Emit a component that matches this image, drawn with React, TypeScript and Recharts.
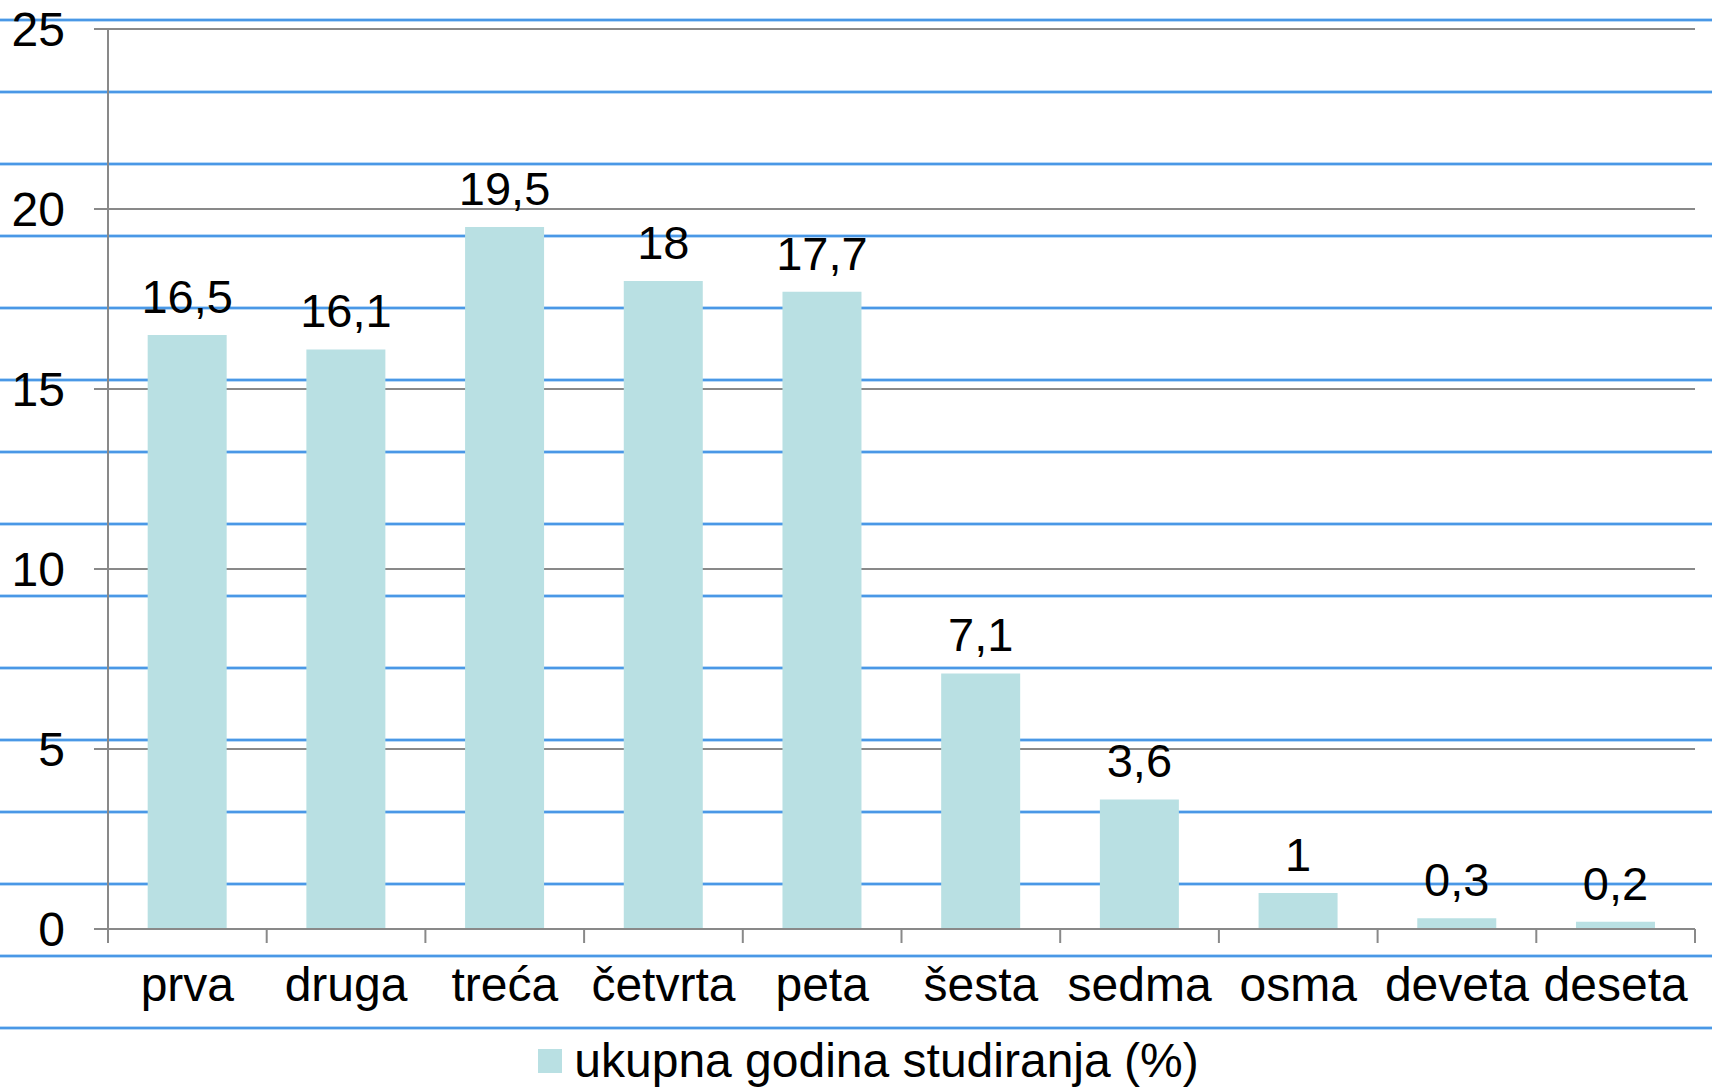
import React from 'react'
import { BarChart, Bar, XAxis, YAxis, CartesianGrid, Legend, LabelList } from 'recharts'

// godina studija i udio (%)
const categories = ['prva', 'druga', 'treća', 'četvrta', 'peta', 'šesta', 'sedma', 'osma', 'deveta', 'deseta']
const values = [16.5, 16.1, 19.5, 18, 17.7, 7.1, 3.6, 1, 0.3, 0.2]
const yTicks = [0, 5, 10, 15, 20, 25]
const seriesName = 'ukupna godina studiranja (%)'

const data = categories.map((name, i) => ({ name, value: values[i] }))

const FONT = '"Liberation Sans", Arial, sans-serif'
const GRAY = '#898989'
const BAR = '#b9e0e3'
const TICK_SIZE = 14
const TICK_MARGIN = 24

const fmt = (v: any) => String(v).replace('.', ',')

// x tick: label in the middle, tick marks on the category boundaries (Excel style)
const CategoryTick = (props: any) => {
  const { x, y, payload, index, visibleTicksCount } = props
  const half = payload && payload.offset ? payload.offset : 79.35
  const axisY = y - TICK_SIZE - TICK_MARGIN
  return (
    <g>
      <line x1={x - half} x2={x - half} y1={axisY} y2={axisY + TICK_SIZE} stroke={GRAY} strokeWidth={2} />
      {index === visibleTicksCount - 1 && (
        <line x1={x + half} x2={x + half} y1={axisY} y2={axisY + TICK_SIZE} stroke={GRAY} strokeWidth={2} />
      )}
      <text x={x} y={y} dy="0.71em" textAnchor="middle" fill="#000" fontSize={48}>
        {payload.value}
      </text>
    </g>
  )
}

const LegendBox = () => (
  <div
    style={{
      height: 70,
      display: 'flex',
      justifyContent: 'center',
      alignItems: 'flex-start',
      fontFamily: FONT,
      fontSize: 48,
      color: '#000',
      paddingLeft: 42,
    }}
  >
    <div style={{ display: 'flex', alignItems: 'center', marginTop: 14 }}>
      <span style={{ width: 24, height: 24, background: BAR, display: 'inline-block', marginRight: 12 }} />
      <span style={{ lineHeight: '56px' }}>{seriesName}</span>
    </div>
  </div>
)

export default function App() {
  return (
    <div
      style={{
        position: 'absolute',
        left: 0,
        top: 0,
        width: 1712,
        height: 1089,
        background: '#fff',
        backgroundImage:
          'repeating-linear-gradient(to bottom, transparent 0px, transparent 18px, #b8d8f6 18px, #b8d8f6 19px, #4a98e6 19px, #4a98e6 21px, #b8d8f6 21px, #b8d8f6 22px, transparent 22px, transparent 72px)',
      }}
    >
      <BarChart
        width={1712}
        height={1089}
        data={data}
        margin={{ top: 29, right: 17, left: 0, bottom: 0 }}
        barCategoryGap="25%"
        style={{ fontFamily: FONT }}
      >
        <CartesianGrid vertical={false} stroke={GRAY} strokeWidth={2} />
        <XAxis
          dataKey="name"
          interval={0}
          height={90}
          tickLine={false}
          tickSize={TICK_SIZE}
          tickMargin={TICK_MARGIN}
          axisLine={{ stroke: GRAY, strokeWidth: 2 }}
          tick={<CategoryTick />}
        />
        <YAxis
          width={108}
          domain={[0, 25]}
          ticks={yTicks}
          interval={0}
          tickSize={TICK_SIZE}
          tickMargin={29}
          tickLine={{ stroke: GRAY, strokeWidth: 2 }}
          axisLine={{ stroke: GRAY, strokeWidth: 2 }}
          tick={{ fill: '#000', fontSize: 48 }}
        />
        <Legend verticalAlign="bottom" content={<LegendBox />} />
        <Bar dataKey="value" name={seriesName} fill={BAR} isAnimationActive={false}>
          <LabelList dataKey="value" position="top" offset={22} formatter={fmt} fill="#000" fontSize={47} />
        </Bar>
      </BarChart>
    </div>
  )
}
